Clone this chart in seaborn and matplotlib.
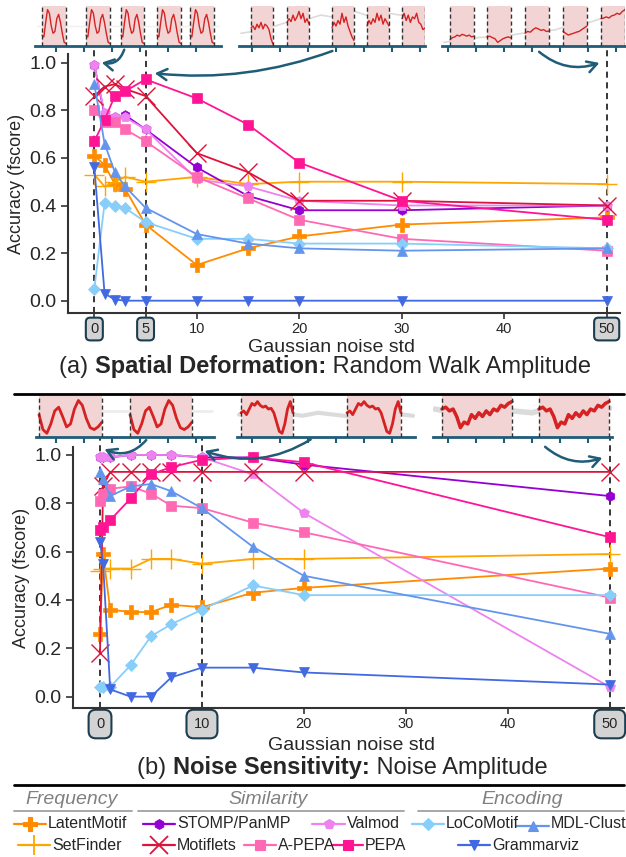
import numpy as np
import matplotlib
matplotlib.use("Agg")
import matplotlib.pyplot as plt
from matplotlib.lines import Line2D
from matplotlib.patches import FancyArrowPatch
from matplotlib.ticker import MultipleLocator
import seaborn as sns

# ---------------------------------------------------------------------------
# Data
# ---------------------------------------------------------------------------
methods = ["LatentMotif", "SetFinder", "STOMP/PanMP", "Valmod", "Motiflets",
           "A-PEPA", "PEPA", "LoCoMotif", "MDL-Clust", "Grammarviz"]

# (a) spatial deformation: random walk amplitude
noise_a = [0, 1, 2, 3, 5, 10, 15, 20, 30, 50]
latent_a = [0.61, 0.57, 0.49, 0.47, 0.32, 0.15, 0.22, 0.27, 0.32, 0.35]
setfinder_a = [0.53, 0.48, 0.50, 0.52, 0.50, 0.52, 0.49, 0.50, 0.50, 0.49]
stomp_a = [0.99, 0.78, 0.77, 0.78, 0.72, 0.56, 0.44, 0.38, 0.38, 0.40]
valmod_a = [0.99, 0.79, 0.77, 0.77, 0.72, 0.51, 0.48, 0.42, 0.40, 0.40]
motiflets_a = [0.86, 0.90, 0.91, 0.89, 0.86, 0.62, 0.54, 0.42, 0.42, 0.40]
apepa_a = [0.80, 0.75, 0.75, 0.72, 0.67, 0.52, 0.43, 0.34, 0.26, 0.21]
pepa_a = [0.67, 0.76, 0.86, 0.88, 0.93, 0.85, 0.74, 0.58, 0.42, 0.34]
loco_a = [0.05, 0.41, 0.40, 0.39, 0.33, 0.26, 0.26, 0.24, 0.24, 0.22]
mdl_a = [0.91, 0.66, 0.54, 0.48, 0.39, 0.28, 0.24, 0.22, 0.21, 0.22]
gram_a = [0.56, 0.03, 0.005, 0.0, 0.0, 0.0, 0.0, 0.0, 0.0, 0.0]

# (b) noise sensitivity: noise amplitude
noise_b = [0, 0.3, 1, 3, 5, 7, 10, 15, 20, 50]
latent_b = [0.26, 0.59, 0.36, 0.35, 0.35, 0.38, 0.37, 0.43, 0.45, 0.53]
setfinder_b = [0.52, 0.53, 0.53, 0.53, 0.57, 0.57, 0.55, 0.57, 0.57, 0.59]
stomp_b = [0.99, 0.99, 0.99, 1.0, 1.0, 1.0, 0.99, 0.99, 0.96, 0.83]
valmod_b = [0.99, 0.99, 0.99, 1.0, 1.0, 1.0, 0.99, 0.92, 0.76, 0.04]
motiflets_b = [0.18, 0.87, 0.93, 0.93, 0.93, 0.93, 0.93, 0.93, 0.93, 0.93]
apepa_b = [0.81, 0.84, 0.86, 0.87, 0.84, 0.79, 0.78, 0.72, 0.68, 0.41]
pepa_b = [0.69, 0.70, 0.73, 0.82, 0.92, 0.95, 0.98, 0.99, 0.97, 0.66]
loco_b = [0.04, 0.04, 0.04, 0.13, 0.25, 0.30, 0.36, 0.46, 0.42, 0.42]
mdl_b = [0.93, 0.90, 0.83, 0.87, 0.88, 0.85, 0.78, 0.62, 0.50, 0.26]
gram_b = [0.64, 0.55, 0.03, 0.0, 0.0, 0.08, 0.12, 0.12, 0.10, 0.05]

highlight_a = [0, 5, 50]
highlight_b = [0, 10, 50]
ticks_a = [0, 5, 10, 20, 30, 40, 50]
ticks_b = [0, 10, 20, 30, 40, 50]

# thumbnail signals (small hand-read sketches)
a1_motif = [0.25, 0.2, 0.6, 0.95, 0.85, 0.5, 0.3, 0.35, 0.7, 0.82, 0.6, 0.3, 0.05, 0.02]
a1_bg = [0.5, 0.5]
a2_w1 = [0.45, 0.5, 0.4, 0.55, 0.45, 0.6, 0.42, 0.55, 0.5, 0.4, 0.15, 0.0]
a2_w2 = [0.6, 0.7, 0.62, 0.8, 0.65, 0.75, 0.9, 0.7, 0.85, 0.6, 0.7, 0.55]
a2_w3 = [0.45, 0.6, 0.5, 0.65, 0.55, 0.85, 0.6, 0.75, 0.5, 0.35, 0.2, 0.1]
a2_w4 = [0.5, 0.65, 0.55, 0.7, 0.6, 0.85, 0.65, 0.8, 0.55, 0.7, 0.6, 0.5]
a2_w5 = [0.7, 0.85, 0.65, 0.8, 0.6, 0.75, 0.7, 0.85, 0.6, 0.55, 0.4, 0.45]
a2_bg = [0.3, 0.35, 0.4, 0.5, 0.6, 0.55, 0.7, 0.8, 0.75, 0.85, 0.9, 0.8,
         0.75, 0.85, 0.8, 0.9, 0.85]
a3_w1 = [0.12, 0.18, 0.2, 0.25, 0.22, 0.27, 0.25, 0.22, 0.25, 0.2, 0.22]
a3_w2 = [0.2, 0.22, 0.18, 0.15, 0.05, 0.1, 0.15, 0.18, 0.2, 0.17]
a3_w3 = [0.3, 0.35, 0.33, 0.4, 0.45, 0.42, 0.38, 0.4, 0.35, 0.36]
a3_w4 = [0.35, 0.3, 0.25, 0.28, 0.3, 0.33, 0.35, 0.4, 0.45, 0.5]
a3_w5 = [0.7, 0.72, 0.75, 0.72, 0.78, 0.8, 0.85, 0.82, 0.9, 0.95]
a3_bg = [0.05, 0.1, 0.15, 0.18, 0.2, 0.22, 0.25, 0.3, 0.32, 0.35, 0.4, 0.5,
         0.55, 0.6, 0.7, 0.75, 0.85]
b1_motif = [0.55, 0.15, 0.05, 0.3, 0.65, 0.75, 0.5, 0.22, 0.3, 0.7, 0.93,
            0.8, 0.45, 0.2, 0.15, 0.22, 0.35]
b1_bg = [0.65, 0.65]
b2_motif = [0.6, 0.65, 0.55, 0.7, 0.85, 0.8, 0.9, 0.8, 0.75, 0.78, 0.7,
            0.72, 0.6, 0.35, 0.1, 0.05, 0.3, 0.7, 0.9, 0.6]
b2_bg = [0.55, 0.6, 0.5, 0.58, 0.52, 0.6, 0.55, 0.5, 0.58, 0.53, 0.57, 0.52]
b3_motif = [0.7, 0.75, 0.65, 0.7, 0.5, 0.2, 0.35, 0.3, 0.55, 0.45, 0.6,
            0.5, 0.65, 0.55, 0.7, 0.65, 0.8, 0.75, 0.85, 0.9]
b3_bg = [0.7, 0.6, 0.75, 0.55, 0.65, 0.6, 0.75, 0.7, 0.62, 0.72]

# ---------------------------------------------------------------------------
# Styling
# ---------------------------------------------------------------------------
sns.set_style("ticks")
plt.rcParams["font.family"] = ["Liberation Sans", "DejaVu Sans"]

W, H = 626, 857
TEAL = "#1f5c78"
SPINE = "#333333"

styles = {
    "LatentMotif": dict(color="#ff8c00", marker="P", ms=10, mew=0.5),
    "SetFinder": dict(color="#ffa500", marker="+", ms=14, mew=1.0),
    "STOMP/PanMP": dict(color="#9400d3", marker="h", ms=7, mew=0.5),
    "Valmod": dict(color="#ee82ee", marker="p", ms=7, mew=0.5),
    "Motiflets": dict(color="#dc143c", marker="x", ms=13, mew=1.0),
    "A-PEPA": dict(color="#ff69b4", marker="s", ms=7, mew=0.5),
    "PEPA": dict(color="#ff1493", marker="s", ms=7, mew=0.5),
    "LoCoMotif": dict(color="#87cefa", marker="D", ms=6, mew=0.5),
    "MDL-Clust": dict(color="#6495ed", marker="^", ms=7, mew=0.5),
    "Grammarviz": dict(color="#4169e1", marker="v", ms=7, mew=0.5),
}

series_a = dict(zip(methods, [latent_a, setfinder_a, stomp_a, valmod_a, motiflets_a,
                              apepa_a, pepa_a, loco_a, mdl_a, gram_a]))
series_b = dict(zip(methods, [latent_b, setfinder_b, stomp_b, valmod_b, motiflets_b,
                              apepa_b, pepa_b, loco_b, mdl_b, gram_b]))

fig = plt.figure(figsize=(W / 100, H / 100), dpi=100)


def px_axes(x0, y0, x1, y1):
    """Axes from a pixel box (origin top-left)."""
    return fig.add_axes([x0 / W, 1 - y1 / H, (x1 - x0) / W, (y1 - y0) / H])


def draw_panel(ax, xs, series, ticks, highlight, xlim, ylim, box_pad, dash_top):
    for m in methods:
        st = styles[m]
        sns.lineplot(x=xs, y=series[m], ax=ax, color=st["color"], marker=st["marker"],
                     markersize=st["ms"], markeredgecolor=st["color"],
                     markeredgewidth=st["mew"], linewidth=1.3, legend=False)
    for v in highlight:
        ax.axvline(v, ymin=0, ymax=dash_top, color="black", ls=(0, (4, 3)),
                   lw=1.1, zorder=0.5, clip_on=False)
    ax.set_xlim(*xlim)
    ax.set_ylim(*ylim)
    ax.set_yticks([0.0, 0.2, 0.4, 0.6, 0.8, 1.0])
    ax.set_yticklabels(["0.0", "0.2", "0.4", "0.6", "0.8", "1.0"], fontsize=14)
    ax.set_xticks(ticks)
    ax.set_xticklabels([str(t) for t in ticks], fontsize=10.5)
    for t, lab in zip(ticks, ax.get_xticklabels()):
        if t in highlight:
            lab.set_bbox(dict(boxstyle=f"round,pad={box_pad}", fc="#d3d3d3",
                              ec="#1c3d4f", lw=1.5))
    ax.tick_params(axis="x", pad=2.5, length=4, width=1.2, color=SPINE)
    ax.tick_params(axis="y", length=5, width=1.2, color=SPINE)
    ax.set_ylabel("Accuracy (fscore)", fontsize=13, labelpad=3)
    ax.set_xlabel("")
    sns.despine(ax=ax)
    for s in ["left", "bottom"]:
        ax.spines[s].set_color(SPINE)
        ax.spines[s].set_linewidth(1.5)


def draw_strip(x0, x1, top, base, windows, signals, bg, sig_lw, bg_lw, bg_alpha):
    sax = px_axes(x0, top, x1, base)
    sax.set_xlim(x0, x1)
    sax.set_ylim(-0.05, 1.05)
    sax.plot(np.linspace(x0 + 2, x1 - 2, len(bg)), bg, color="#c4c4c4",
             lw=bg_lw, alpha=bg_alpha, zorder=1)
    for (a, b), sig in zip(windows, signals):
        sax.axvspan(a, b, color="#f2d4d4", lw=0, zorder=2)
        for e in (a, b):
            sax.axvline(e, color="#333333", ls=(0, (3, 2)), lw=1.0, zorder=4)
        sax.plot(np.linspace(a, b, len(sig)), sig, color="#d62222", lw=sig_lw, zorder=3)
    for s in ["top", "right", "left"]:
        sax.spines[s].set_visible(False)
    sax.spines["bottom"].set_color(TEAL)
    sax.spines["bottom"].set_linewidth(2)
    sax.set_yticks([])
    sax.xaxis.set_major_locator(MultipleLocator(28))
    sax.tick_params(axis="x", length=4, width=1.5, color=TEAL, labelbottom=False)
    sax.patch.set_alpha(0)


def arrow(p0, p1, rad):
    fig.add_artist(FancyArrowPatch((p0[0] / W, 1 - p0[1] / H), (p1[0] / W, 1 - p1[1] / H),
                                   transform=fig.transFigure,
                                   connectionstyle=f"arc3,rad={rad}",
                                   arrowstyle="->,head_length=7,head_width=4",
                                   color=TEAL, lw=1.8))


def caption(x, y, parts, size):
    """Mixed-weight caption, pieces chained left to right."""
    t = fig.text(x / W, 1 - y / H, parts[0][0], fontsize=size,
                 fontweight=parts[0][1], va="center", ha="left")
    for s, w in parts[1:]:
        t = fig.axes[0].annotate(s, xy=(1, 0), xycoords=t, fontsize=size,
                                 fontweight=w, va="bottom", ha="left",
                                 annotation_clip=False)


# ---------------------------------------------------------------------------
# Panel (a)
# ---------------------------------------------------------------------------
ax_a = px_axes(68, 54, 620, 313)
draw_panel(ax_a, noise_a, series_a, ticks_a, highlight_a,
           (-2.57, 51.3), (-0.0517, 1.0366), 0.3, 1.03)

draw_strip(35, 221, 6, 46, [(42, 66), (86, 110), (121, 144), (157, 181), (190, 214)],
           [a1_motif] * 5, a1_bg, 1.0, 1.0, 0.25)
draw_strip(239, 425, 6, 46, [(251, 273), (287, 309), (332, 354), (367, 389), (402, 425)],
           [a2_w1, a2_w2, a2_w3, a2_w4, a2_w5], a2_bg, 1.0, 1.2, 0.6)
draw_strip(442, 625, 6, 46, [(450, 474), (487, 511), (525, 549), (563, 587), (601, 625)],
           [a3_w1, a3_w2, a3_w3, a3_w4, a3_w5], a3_bg, 1.0, 1.2, 0.6)

arrow((125, 47), (99, 62), -0.5)
arrow((335, 50), (152, 73), -0.12)
arrow((537, 50), (602, 62), 0.3)

fig.text(332 / W, 1 - 347 / H, "Gaussian noise std", fontsize=14, ha="center", va="center")
caption(59, 367, [("(a) ", "normal"), ("Spatial Deformation:", "bold"),
                  (" Random Walk Amplitude", "normal")], 17)

fig.add_artist(Line2D([14 / W, 624 / W], [1 - 394 / H] * 2, color="black", lw=2))

# ---------------------------------------------------------------------------
# Panel (b)
# ---------------------------------------------------------------------------
ax_b = px_axes(73, 447, 624, 708)
draw_panel(ax_b, noise_b, series_b, ticks_b, highlight_b,
           (-2.65, 51.4), (-0.047, 1.033), 0.5, 1.038)

draw_strip(36, 214, 396, 437, [(39, 102), (130, 192)], [b1_motif] * 2, b1_bg, 2.0, 2.0, 0.3)
draw_strip(237, 415, 396, 437, [(241, 293), (347, 401)], [b2_motif] * 2, b2_bg, 2.0, 3.0, 0.6)
draw_strip(433, 612, 396, 437, [(442, 512), (539, 609)], [b3_motif] * 2, b3_bg, 2.5, 4.0, 0.6)

arrow((148, 438), (102, 448), -0.4)
arrow((313, 438), (202, 450), -0.25)
arrow((543, 445), (605, 457), 0.3)

fig.text(352 / W, 1 - 746 / H, "Gaussian noise std", fontsize=14, ha="center", va="center")
caption(137, 768, [("(b) ", "normal"), ("Noise Sensitivity:", "bold"),
                   (" Noise Amplitude", "normal")], 17)

fig.add_artist(Line2D([14 / W, 624 / W], [1 - 785 / H] * 2, color="black", lw=2))

# ---------------------------------------------------------------------------
# Grouped legend
# ---------------------------------------------------------------------------
groups = [("Frequency", 72, 14, 132), ("Similarity", 268, 138, 404),
          ("Encoding", 522, 418, 624)]
for name, cx, lx0, lx1 in groups:
    fig.text(cx / W, 1 - 800 / H, name, fontsize=14, style="italic",
             color="#808080", ha="center", va="center")
    fig.add_artist(Line2D([lx0 / W, lx1 / W], [1 - 811 / H] * 2, color="#a0a0a0", lw=1.3))

legend_pos = {
    "LatentMotif": (14, 46, 824), "STOMP/PanMP": (143, 175, 824),
    "Valmod": (312, 345, 824), "LoCoMotif": (412, 444, 824),
    "MDL-Clust": (517, 549, 826), "SetFinder": (18, 50, 845),
    "Motiflets": (143, 175, 845), "A-PEPA": (244, 276, 845),
    "PEPA": (332, 363, 845), "Grammarviz": (458, 490, 845),
}
for m, (hx0, hx1, hy) in legend_pos.items():
    st = styles[m]
    yy = 1 - hy / H
    fig.add_artist(Line2D([hx0 / W, (hx0 + hx1) / 2 / W, hx1 / W], [yy] * 3,
                          color=st["color"], lw=1.6, marker=st["marker"],
                          markersize=st["ms"], markeredgecolor=st["color"],
                          markeredgewidth=st["mew"] + 0.3, markevery=[1]))
    fig.text((hx1 + 2) / W, yy + (3 / H if m == "MDL-Clust" else 0), m,
             fontsize=11.5, ha="left", va="center")

fig.savefig("out.png", dpi=100)
